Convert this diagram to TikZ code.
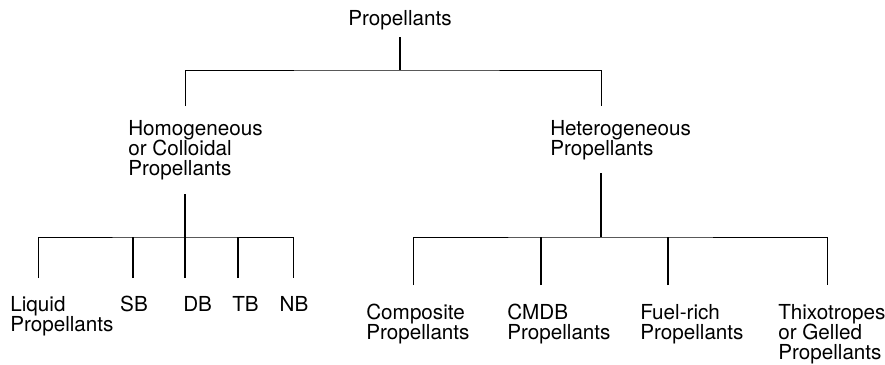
\documentclass[tikz,border=0pt]{standalone}
\usepackage{fontspec}
\setmainfont{TeX Gyre Heros}
\usetikzlibrary{positioning,calc}

\tikzset{
    lbl/.style={inner sep=0pt, anchor=north west, align=left, font=\fontsize{15.5}{15}\selectfont},
    stem/.style={line width=1pt},
    bar/.style={line width=0.75pt}
}

\begin{document}
\begin{tikzpicture}[x=0.75pt, y=-0.75pt]
    \useasboundingbox (0,0) rectangle (885,364);

    % classes
    \node[lbl, anchor=north] (root) at (400,10) {Propellants};
    \node[lbl] (homog) at (128,120) {Homogeneous\\or Colloidal\\Propellants};
    \node[lbl] (hetero) at (550,120) {Heterogeneous\\Propellants};

    % homogeneous kinds
    \node[lbl] (liquid) at (10,296) {Liquid\\Propellants};
    \node[lbl, anchor=north] (sb) at (134,296) {SB};
    \node[lbl] (db) at (183,296) {DB};
    \node[lbl] (tb) at (232,296) {TB};
    \node[lbl, anchor=north] (nb) at (294,296) {NB};

    % heterogeneous kinds
    \node[lbl] (comp) at (366,304) {Composite\\Propellants};
    \node[lbl] (cmdb) at (507,304) {CMDB\\Propellants};
    \node[lbl] (fuel) at (640,304) {Fuel-rich\\Propellants};
    \node[lbl] (thixo) at (778,304) {Thixotropes\\or Gelled\\Propellants};

    % junctions
    \coordinate (topbus) at ([shift={(0,60)}]root.north);
    \coordinate (hmtip) at ([shift={(57,-14)}]homog.north west);
    \coordinate (httip) at ([shift={(51,-14)}]hetero.north west);
    \coordinate (lbus) at (hmtip |- 0,237);
    \coordinate (rbus) at (httip |- 0,237);
    \coordinate (lqtip) at ([shift={(28,-18)}]liquid.north west);
    \coordinate (sbtip) at ([shift={(-1,-18)}]sb.north);
    \coordinate (dbtip) at ([shift={(2,-18)}]db.north west);
    \coordinate (tbtip) at ([shift={(6,-18)}]tb.north west);
    \coordinate (nbtip) at ([shift={(-1,-18)}]nb.north);
    \coordinate (cotip) at ([shift={(47,-19)}]comp.north west);
    \coordinate (cmtip) at ([shift={(34,-19)}]cmdb.north west);
    \coordinate (futip) at ([shift={(28,-19)}]fuel.north west);
    \coordinate (thtip) at ([shift={(49,-19)}]thixo.north west);

    % top level
    \draw[stem] (root.south) ++(0,7) -- (topbus);
    \draw[bar] (hmtip) |- (topbus) -| (httip);

    % left branch
    \draw[stem] (homog.south -| hmtip) ++(0,14) -- (lbus);
    \draw[bar] (lqtip) |- (lbus) -| (nbtip);
    \foreach \t in {sbtip,dbtip,tbtip}
        \draw[stem] (\t) -- (\t |- lbus);

    % right branch
    \draw[stem] (hetero.south -| httip) ++(0,13) -- (rbus);
    \draw[bar] (cotip) |- (rbus) -| (thtip);
    \foreach \t in {cmtip,futip}
        \draw[stem] (\t) -- (\t |- rbus);
\end{tikzpicture}
\end{document}
